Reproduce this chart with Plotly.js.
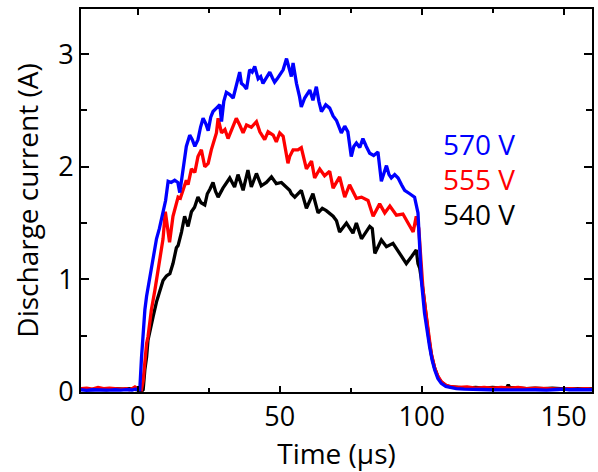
<!DOCTYPE html>
<html>
<head>
<meta charset="utf-8">
<script src="https://cdn.plot.ly/plotly-3.0.1.min.js"></script>
<style>
  html, body { margin: 0; padding: 0; background: #fff; }
  #chart { width: 598px; height: 472px; }
</style>
</head>
<body>
<div id="chart"></div>
<script>
// Time (µs) and discharge current (A)
const t570 = [-20,-18,-16,-14,-12,-10,-8,-6,-4,-2,-1,0,0.7,1.3,1.9,2.5,3.1,4,4.8,5.6,6.6,7.6,8.9,9.8,10.7,11.8,13,14.1,14.8,16,17.1,18.3,19.2,20.1,21.2,22.1,23,24,24.8,25.7,26.5,27.7,28.9,29.5,30.3,31.2,32.4,33.6,34.8,35.9,36.5,37.4,38.3,39.4,40.3,41.2,42.4,43.3,44.1,45.3,46.5,47.4,48.2,49.1,50,51.2,52.4,53.3,54.1,54.7,55.3,55.9,57,57.6,58.8,59.7,60.6,61.7,62.9,63.8,64.7,66.2,67.6,68.8,70,71.7,72.9,74,75.2,76.1,77,78.2,79.3,80.5,81.7,83.1,84.6,85.8,86.7,87.6,88.5,89.3,90.5,91.7,92.9,94,95.8,97.5,98.7,99.4,99.9,101,102,102.8,103.7,104.6,105.7,106.9,108.5,110,112.2,115,118,121,124,127,130,133,136,140,144,148,150,152,156,160];
const i570 = [0.02,0.015,0.02,0.018,0.022,0.017,0.02,0.016,0.021,0.018,0.025,0.02,0.02,0.3,0.55,0.73,0.85,0.98,1.11,1.2,1.36,1.45,1.59,1.7,1.87,1.86,1.88,1.86,1.77,1.98,2.18,2.28,2.24,2.18,2.24,2.35,2.43,2.38,2.32,2.44,2.49,2.52,2.55,2.40,2.58,2.66,2.64,2.61,2.72,2.84,2.74,2.72,2.69,2.86,2.84,2.89,2.78,2.80,2.74,2.79,2.84,2.79,2.75,2.78,2.81,2.86,2.96,2.86,2.80,2.92,2.83,2.74,2.62,2.53,2.61,2.64,2.68,2.59,2.71,2.58,2.49,2.55,2.52,2.45,2.41,2.30,2.36,2.31,2.09,2.18,2.21,2.17,2.25,2.18,2.12,2.10,2.13,1.87,1.95,2.01,1.93,1.90,1.93,1.90,1.84,1.79,1.76,1.73,1.59,1.25,0.99,0.70,0.52,0.40,0.28,0.195,0.12,0.077,0.05,0.04,0.03,0.025,0.02,0.022,0.02,0.018,0.022,0.02,0.018,0.02,0.017,0.022,0.025,0.02,0.018,0.02];

const t555 = [-20,-18,-16,-14,-12,-10,-8,-6,-4,-3,-2,-1,0,0.8,1.3,1.9,2.5,3.1,3.6,4.8,6,6.6,7.7,8.9,9.7,10.5,11.2,12.4,13.3,14.2,15,16,17.1,17.7,18.9,20.1,21.2,22.4,23.6,24.8,25.9,27.7,28.3,29.5,30.7,31.8,33,34.7,35.9,37.1,38.3,40,41.8,43,44.7,45.9,47.7,48.8,50,51.2,52.9,53.5,54.7,56.4,57.6,59.4,61.2,62.3,64.1,65.8,67.6,68.8,71.1,72.9,74.6,77,78.8,81.1,82.9,85.2,87,88.8,91.1,93.4,95.2,97,98.1,99,99.8,100.5,101.5,102.5,103.4,104.5,105.7,107,108.5,110,113,116,119,122,125,128,131,134,137,140,143,146,149,152,155,158,160];
const i555 = [0.03,0.035,0.025,0.04,0.03,0.035,0.03,0.025,0.03,0.02,0.03,0.045,0.03,0.02,0.02,0.1,0.28,0.43,0.49,0.73,0.9,1.0,1.2,1.36,1.6,1.45,1.33,1.56,1.65,1.73,1.72,1.79,1.88,1.84,1.98,1.95,2.09,2.15,2.0,2.03,2.15,2.30,2.43,2.30,2.33,2.25,2.33,2.43,2.37,2.30,2.37,2.35,2.40,2.31,2.24,2.31,2.28,2.22,2.30,2.27,2.03,2.09,2.15,2.15,2.17,1.98,2.05,1.90,1.98,1.92,1.96,1.81,1.91,1.73,1.84,1.72,1.73,1.70,1.56,1.67,1.59,1.65,1.57,1.58,1.50,1.42,1.56,1.45,1.15,0.90,0.70,0.50,0.34,0.22,0.14,0.09,0.06,0.05,0.04,0.045,0.035,0.04,0.035,0.04,0.035,0.04,0.03,0.035,0.03,0.03,0.025,0.03,0.025,0.03,0.025];

const t540 = [-20,-17,-14,-11,-8,-5,-3,-1,0,1.5,1.9,2.5,3.1,3.6,4.8,5.4,6.6,7.2,8.3,8.9,10.1,11.3,12.4,13.6,14.2,15.4,16.5,17.7,18.9,20,21.2,22.3,23.6,24.5,25.4,26.5,27.4,28.3,30,31.2,32.4,34.1,35.3,37.1,38.8,40,41.8,43.5,45.3,47.1,48.8,50.6,52.4,53.5,54.1,55.3,57.6,59.4,61.7,63.5,65,66.4,68.8,70,71.1,73.5,75.8,77,78.8,80.3,81.7,82.6,83.5,85.8,87.6,89.9,92.3,94.6,96.4,98.1,98.7,99.3,100.5,101.5,102.5,103.5,104.6,105.8,107,108.5,110,113,116,119,122,125,128,130,130.5,131,134,137,140,143,146,149,152,155,158,160];
const i540 = [0.025,0.02,0.025,0.02,0.03,0.025,0.03,0.025,0.02,0.01,0.02,0.2,0.31,0.46,0.62,0.67,0.80,0.85,0.96,0.99,1.03,1.05,1.14,1.28,1.30,1.42,1.56,1.47,1.60,1.64,1.73,1.68,1.66,1.76,1.80,1.86,1.78,1.73,1.81,1.86,1.90,1.82,1.93,1.79,1.97,1.82,1.94,1.83,1.86,1.91,1.85,1.86,1.82,1.79,1.76,1.73,1.79,1.63,1.76,1.59,1.63,1.61,1.56,1.52,1.42,1.50,1.41,1.50,1.36,1.42,1.47,1.45,1.23,1.35,1.29,1.32,1.23,1.14,1.20,1.26,1.14,1.10,0.90,0.68,0.48,0.32,0.21,0.13,0.085,0.06,0.045,0.04,0.035,0.04,0.035,0.04,0.035,0.04,0.065,0.04,0.035,0.03,0.035,0.03,0.035,0.03,0.025,0.03,0.025,0.03];

const seriesNames = ['540 V', '555 V', '570 V'];
const seriesColors = ['#000000', '#ff0000', '#0000ff'];
const xTickVals = [0, 50, 100, 150];
const yTickVals = [0, 1, 2, 3];

const FONT = '"Open Sans", "DejaVu Sans", sans-serif';

const xs = [t540, t555, t570];
const ys = [i540, i555, i570];
const traces = xs.map((x, k) => ({
  x: x, y: ys[k], type: 'scatter', mode: 'lines', name: seriesNames[k],
  line: {color: seriesColors[k], width: 3.3}, hoverinfo: 'skip'
}));

const labelY = [214, 179, 144];
const annotations = seriesNames.map((n, k) => ({
  text: n, xref: 'paper', yref: 'paper', showarrow: false,
  x: (441 - 81) / 511, y: (392 - labelY[k]) / 383,
  xanchor: 'left', yanchor: 'middle',
  font: {family: FONT, size: 28, color: seriesColors[k]}
}));

const layout = {
  width: 598, height: 472,
  margin: {l: 81, r: 6, t: 9, b: 80, pad: 0},
  paper_bgcolor: '#ffffff', plot_bgcolor: '#ffffff',
  showlegend: false,
  font: {family: FONT, size: 27, color: '#000'},
  xaxis: {
    range: [-20, 160], tickvals: xTickVals, ticktext: xTickVals.map(String),
    ticks: 'inside', ticklen: 6, tickwidth: 2, tickcolor: '#000',
    minor: {tickvals: [25, 75, 125], ticks: 'inside', ticklen: 4, tickwidth: 2, tickcolor: '#000'},
    showline: true, linewidth: 2, linecolor: '#000', mirror: 'ticks',
    showgrid: false, zeroline: false,
    tickfont: {family: FONT, size: 27, color: '#000'},
    title: {text: 'Time (µs)', font: {family: FONT, size: 28, color: '#000'}, standoff: 5}
  },
  yaxis: {
    range: [0, 3.4], tickvals: yTickVals, ticktext: yTickVals.map(String),
    ticks: 'inside', ticklen: 8, tickwidth: 2, tickcolor: '#000',
    minor: {tickvals: [0.5, 1.5, 2.5], ticks: 'inside', ticklen: 6, tickwidth: 2, tickcolor: '#000'},
    showline: true, linewidth: 2, linecolor: '#000', mirror: 'ticks',
    showgrid: false, zeroline: false,
    tickfont: {family: FONT, size: 27, color: '#000'},
    title: {text: 'Discharge current (A)', font: {family: FONT, size: 28, color: '#000'}, standoff: 11}
  },
  annotations: annotations
};

Plotly.newPlot('chart', traces, layout, {staticPlot: true, displayModeBar: false});
</script>
</body>
</html>
